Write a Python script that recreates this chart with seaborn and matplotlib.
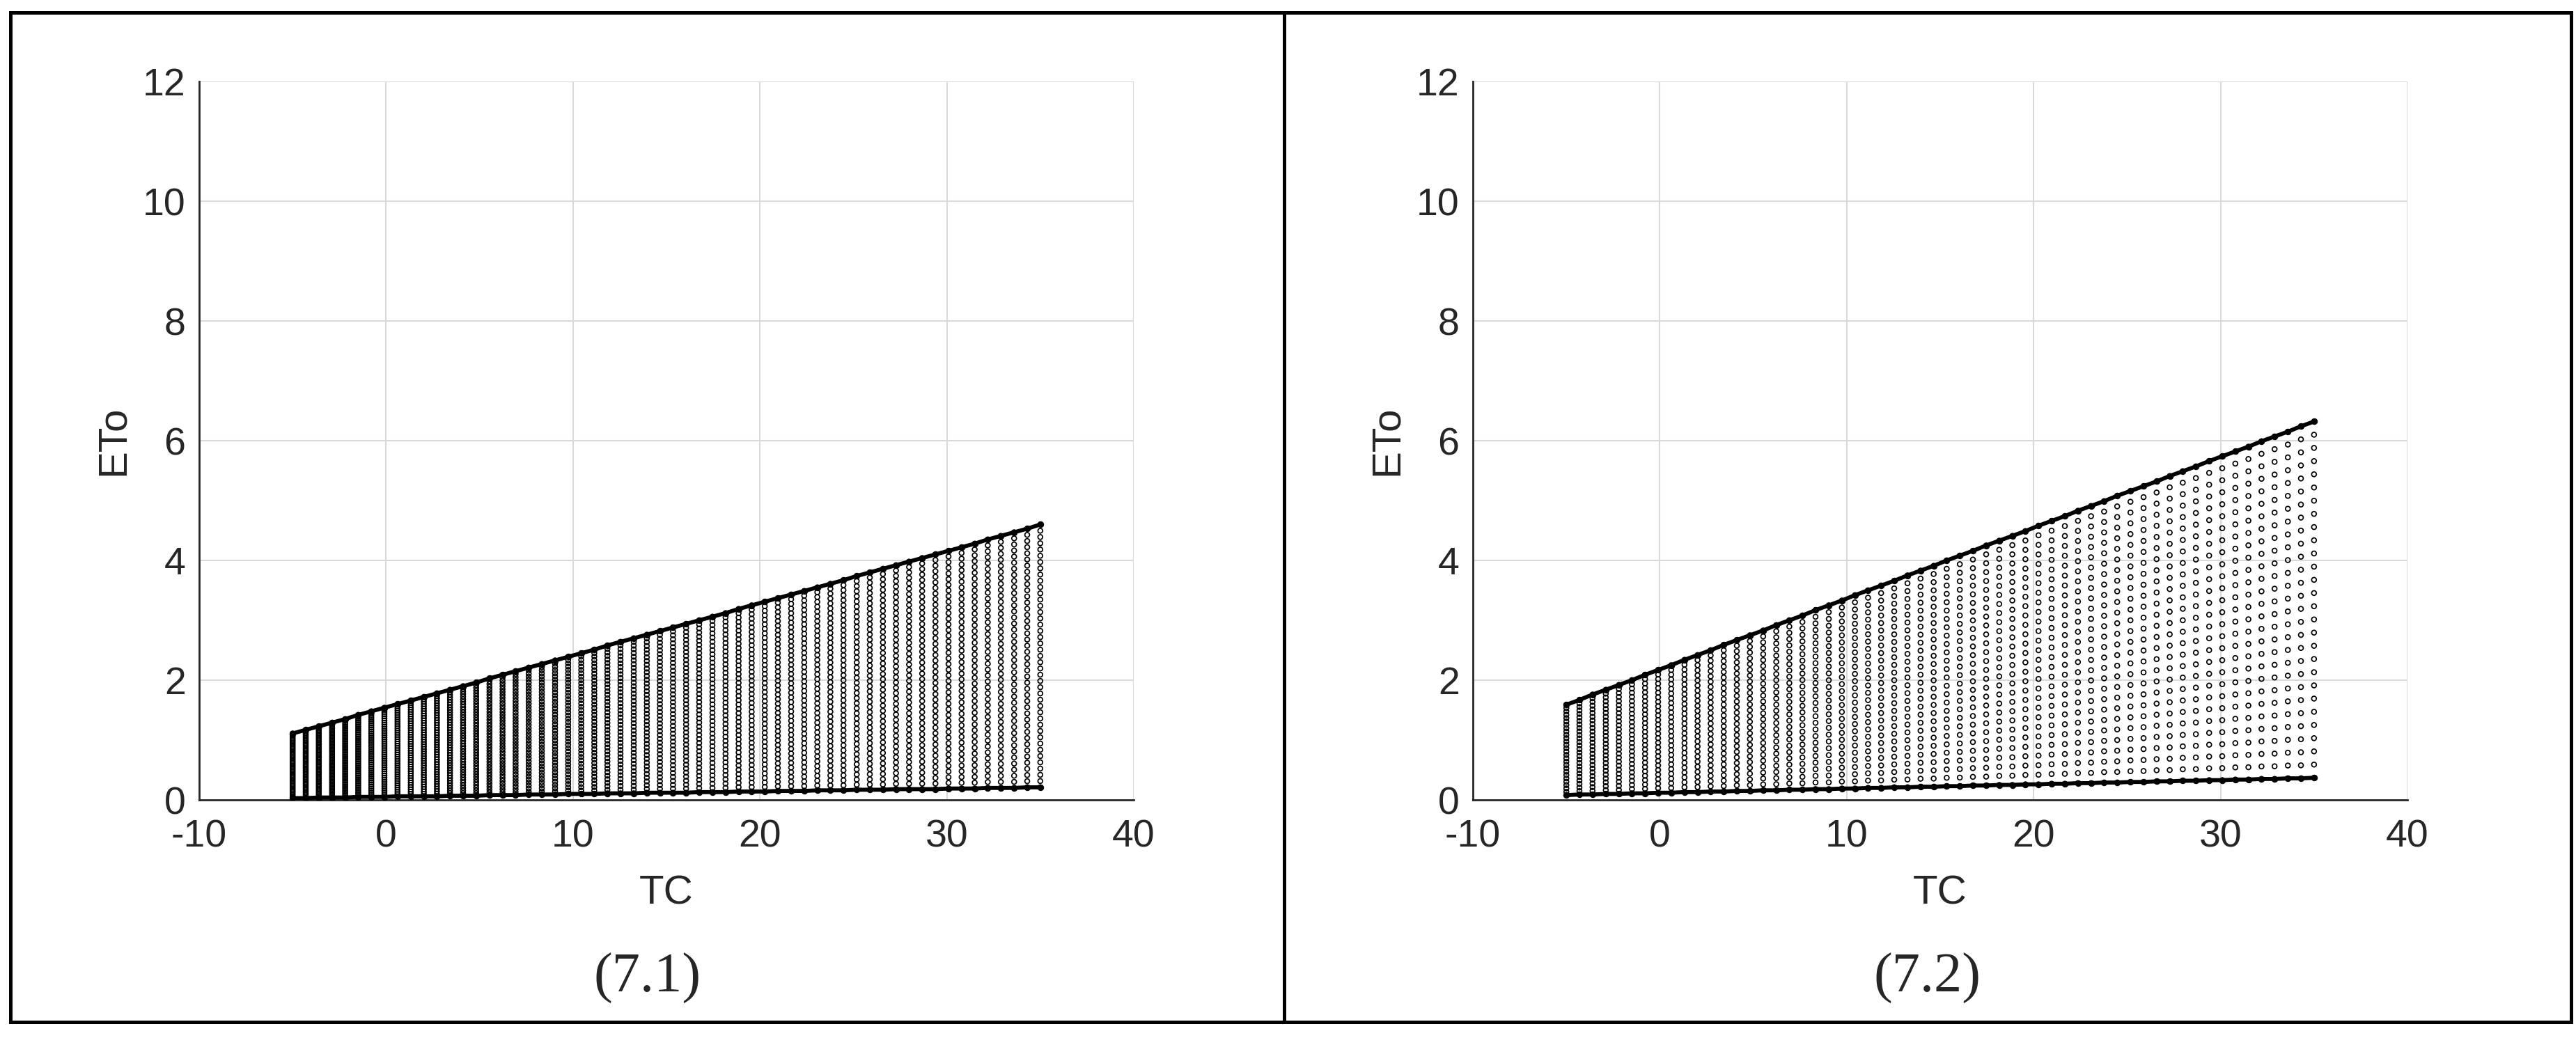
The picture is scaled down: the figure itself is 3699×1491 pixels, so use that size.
import matplotlib
matplotlib.use("Agg")
import matplotlib.pyplot as plt
from matplotlib.markers import MarkerStyle
from matplotlib.lines import Line2D
from matplotlib.patches import Rectangle
import numpy as np
import pandas as pd
import seaborn as sns

# TC values of the columns (same for both panels)
tc = [-5.00, -4.30, -3.60, -2.89, -2.19, -1.49, -0.79, -0.09, 0.61, 1.32,
      2.02, 2.72, 3.42, 4.12, 4.82, 5.53, 6.23, 6.93, 7.63, 8.33,
      9.04, 9.74, 10.44, 11.14, 11.84, 12.54, 13.25, 13.95, 14.65, 15.35,
      16.05, 16.75, 17.46, 18.16, 18.86, 19.56, 20.26, 20.96, 21.67, 22.37,
      23.07, 23.77, 24.47, 25.18, 25.88, 26.58, 27.28, 27.98, 28.68, 29.39,
      30.09, 30.79, 31.49, 32.19, 32.89, 33.60, 34.30, 35.00]

# panel (7.1): upper and lower ETo envelope per column
eto_top_1 = [1.11, 1.17, 1.23, 1.29, 1.35, 1.42, 1.48, 1.54, 1.60, 1.66,
             1.72, 1.78, 1.84, 1.90, 1.96, 2.03, 2.09, 2.15, 2.21, 2.27,
             2.33, 2.39, 2.45, 2.51, 2.58, 2.64, 2.70, 2.76, 2.82, 2.88,
             2.94, 3.00, 3.06, 3.12, 3.19, 3.25, 3.31, 3.37, 3.43, 3.49,
             3.55, 3.61, 3.67, 3.74, 3.80, 3.86, 3.92, 3.98, 4.04, 4.10,
             4.16, 4.22, 4.28, 4.35, 4.41, 4.47, 4.53, 4.60]
eto_low_1 = [0.03, 0.03, 0.04, 0.04, 0.04, 0.05, 0.05, 0.05, 0.06, 0.06,
             0.06, 0.06, 0.07, 0.07, 0.07, 0.08, 0.08, 0.08, 0.09, 0.09,
             0.09, 0.10, 0.10, 0.10, 0.11, 0.11, 0.11, 0.12, 0.12, 0.12,
             0.12, 0.13, 0.13, 0.13, 0.14, 0.14, 0.14, 0.15, 0.15, 0.15,
             0.16, 0.16, 0.16, 0.17, 0.17, 0.17, 0.18, 0.18, 0.18, 0.18,
             0.19, 0.19, 0.19, 0.20, 0.20, 0.20, 0.21, 0.21]

# panel (7.2)
eto_top_2 = [1.59, 1.67, 1.76, 1.84, 1.92, 2.00, 2.09, 2.17, 2.25, 2.34,
             2.42, 2.50, 2.59, 2.67, 2.75, 2.83, 2.92, 3.00, 3.08, 3.17,
             3.25, 3.33, 3.42, 3.50, 3.58, 3.66, 3.75, 3.83, 3.91, 4.00,
             4.08, 4.16, 4.25, 4.33, 4.41, 4.49, 4.58, 4.66, 4.74, 4.83,
             4.91, 4.99, 5.08, 5.16, 5.24, 5.32, 5.41, 5.49, 5.57, 5.66,
             5.74, 5.82, 5.90, 5.99, 6.07, 6.15, 6.24, 6.32]
eto_low_2 = [0.08, 0.09, 0.09, 0.10, 0.10, 0.11, 0.11, 0.12, 0.12, 0.13,
             0.13, 0.14, 0.14, 0.15, 0.15, 0.16, 0.16, 0.17, 0.17, 0.18,
             0.18, 0.19, 0.19, 0.20, 0.20, 0.21, 0.21, 0.22, 0.22, 0.23,
             0.23, 0.24, 0.24, 0.25, 0.25, 0.26, 0.26, 0.27, 0.27, 0.28,
             0.28, 0.29, 0.29, 0.30, 0.30, 0.31, 0.31, 0.32, 0.32, 0.33,
             0.33, 0.34, 0.34, 0.35, 0.35, 0.36, 0.36, 0.37]

# number of simulated points in each column
n_rows_1 = 43
n_rows_2 = 28

panel_labels = ["(7.1)", "(7.2)"]
x_ticks = [-10, 0, 10, 20, 30, 40]
y_ticks = [0, 2, 4, 6, 8, 10, 12]

sns.set_style("white")
plt.rcParams["font.family"] = ["Liberation Sans", "DejaVu Sans"]
plt.rcParams["axes.unicode_minus"] = False

W, H = 3699, 1491
fig = plt.figure(figsize=(W / 100, H / 100), dpi=100)


def column_points(top, low, n):
    rows = []
    for x, t, b in zip(tc, top, low):
        for j in range(n):
            rows.append((x, b + (t - b) * j / (n - 1)))
    return pd.DataFrame(rows, columns=["TC", "ETo"])


panels = [(eto_top_1, eto_low_1, n_rows_1, 286),
          (eto_top_2, eto_low_2, n_rows_2, 2115)]
axes_bottom = 1 - 1149 / H
axes_height = (1149 - 117) / H

for i, (top, low, n, left_px) in enumerate(panels):
    ax = fig.add_axes([left_px / W, axes_bottom, 1342 / W, axes_height])
    ax.set_axisbelow(True)
    ax.grid(True, color="#d9d9d9", lw=1.5)

    pts = column_points(top, low, n)
    sns.scatterplot(data=pts, x="TC", y="ETo", ax=ax,
                    marker=MarkerStyle("o", fillstyle="none"),
                    color="black", s=24, linewidth=1.25, zorder=2)

    sns.lineplot(x=tc, y=top, ax=ax, color="black", lw=4.2,
                 marker=".", ms=12, mec="black", zorder=3)
    sns.lineplot(x=tc, y=low, ax=ax, color="black", lw=4.2,
                 marker=".", ms=12, mec="black", zorder=3)

    ax.set_xlim(-10, 40)
    ax.set_ylim(0, 12)
    ax.set_xticks(x_ticks)
    ax.set_yticks(y_ticks)
    sns.despine(ax=ax)
    for side in ["left", "bottom"]:
        ax.spines[side].set_color("#262626")
        ax.spines[side].set_linewidth(2)
    ax.tick_params(direction="in", length=11, width=2, color="#262626",
                   labelsize=40, labelcolor="#262626")
    ax.tick_params(axis="x", pad=20)
    ax.tick_params(axis="y", pad=14)

    ax.set_xlabel("TC", fontsize=42, va="center")
    ax.set_ylabel("ETo", fontsize=42, va="center")
    ax.xaxis.set_label_coords(0.5, -0.130)
    ax.yaxis.set_label_coords(-0.0915, 0.5)

# panel captions
fig.text(930 / W, 1 - 1405 / H, panel_labels[0], ha="center", va="center",
         fontsize=58, family="Liberation Serif")
fig.text(2768 / W, 1 - 1405 / H, panel_labels[1], ha="center", va="center",
         fontsize=58, family="Liberation Serif")

# frame around the two panels
fig.add_artist(Rectangle((15 / W, 1 - 1468 / H), (3692 - 15) / W, (1468 - 18) / H,
                         transform=fig.transFigure, fill=False, ec="black", lw=3.6))
fig.add_artist(Line2D([1844 / W, 1844 / W], [1 - 1468 / H, 1 - 18 / H],
                      transform=fig.transFigure, color="black", lw=3.6))

fig.savefig("out.png", dpi=100)
